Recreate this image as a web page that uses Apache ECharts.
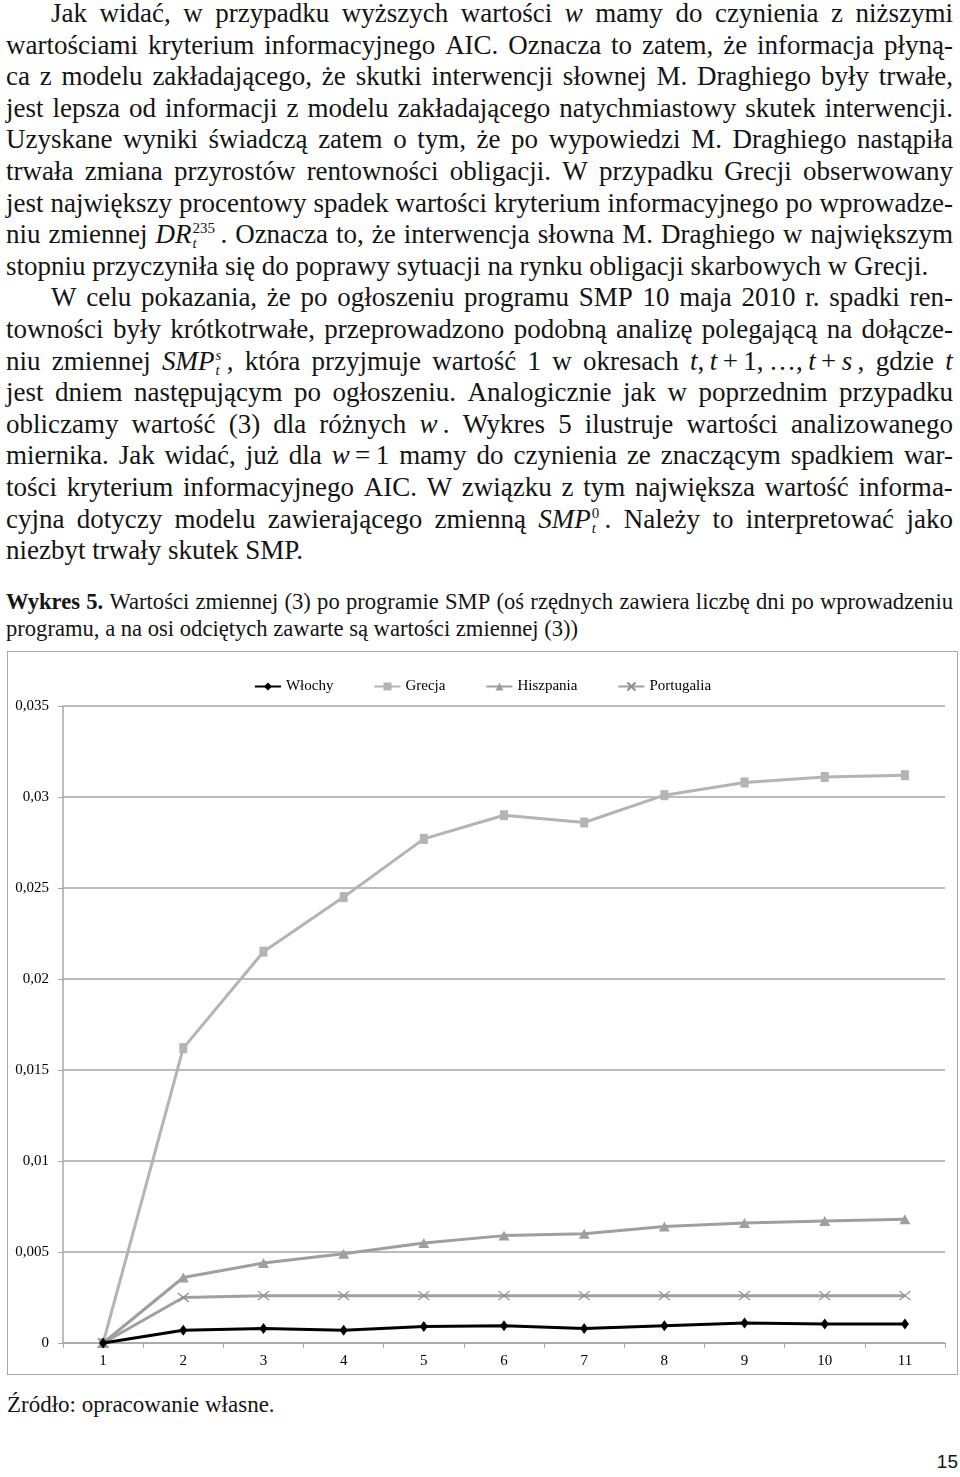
<!DOCTYPE html>
<html><head><meta charset="utf-8">
<script src="https://cdn.jsdelivr.net/npm/echarts@6/dist/echarts.min.js"></script>
<style>
html,body{margin:0;padding:0;background:#fff;}
body{width:960px;height:1477px;position:relative;overflow:hidden;font-family:'Liberation Serif','Times New Roman',serif;color:#141414;}
#text{position:absolute;left:6px;top:-2px;width:947px;font-size:27px;}
.ln{height:31.6px;line-height:31.6px;white-space:nowrap;}
.j{display:flex;justify-content:space-between;}
.j>span{flex:0 0 auto;white-space:nowrap;}
.ind{padding-left:45px;}
m-s{display:inline-flex;flex-direction:column;font-size:15px;line-height:15px;vertical-align:10px;margin-left:1px;}
m-p,m-b{display:block;}
m-b{font-style:italic;}
#cap{position:absolute;left:6px;top:588px;width:947px;font-size:22.6px;}
.cl{height:27px;line-height:27px;white-space:nowrap;}
#chart{position:absolute;left:7px;top:651px;width:951px;height:724px;border:1px solid #a8a8a8;box-sizing:border-box;}
#src{position:absolute;left:7px;top:1391px;font-size:23px;line-height:27px;white-space:nowrap;}
#pg{position:absolute;right:2px;top:1450px;font-family:'Liberation Sans',Arial,sans-serif;font-size:19px;line-height:24px;}
</style>
</head>
<body>
<div id="text">
<div class="ln j ind">Jak widać, w przypadku wyższych wartości <i>w</i> mamy do czynienia z niższymi</div>
<div class="ln j">wartościami kryterium informacyjnego AIC. Oznacza to zatem, że informacja płyną-</div>
<div class="ln j">ca z modelu zakładającego, że skutki interwencji słownej M. Draghiego były trwałe,</div>
<div class="ln j">jest lepsza od informacji z modelu zakładającego natychmiastowy skutek interwencji.</div>
<div class="ln j">Uzyskane wyniki świadczą zatem o tym, że po wypowiedzi M. Draghiego nastąpiła</div>
<div class="ln j">trwała zmiana przyrostów rentowności obligacji. W przypadku Grecji obserwowany</div>
<div class="ln j">jest największy procentowy spadek wartości kryterium informacyjnego po wprowadze-</div>
<div class="ln j">niu zmiennej <i>DR</i><m-s><m-p>235</m-p><m-b>t</m-b></m-s>&#8201;. Oznacza to, że interwencja słowna M. Draghiego w największym</div>
<div class="ln">stopniu przyczyniła się do poprawy sytuacji na rynku obligacji skarbowych w Grecji.</div>
<div class="ln j ind">W celu pokazania, że po ogłoszeniu programu SMP 10 maja 2010 r. spadki ren-</div>
<div class="ln j">towności były krótkotrwałe, przeprowadzono podobną analizę polegającą na dołącze-</div>
<div class="ln j">niu zmiennej <i>SMP</i><m-s><m-p><i>s</i></m-p><m-b>t</m-b></m-s>&#8201;, która przyjmuje wartość 1 w okresach <i>t</i>,&#8201;<i>t</i>&#8201;+&#8201;1,&#8201;…,&#8201;<i>t</i>&#8201;+&#8201;<i>s</i>&#8201;, gdzie <i>t</i></div>
<div class="ln j">jest dniem następującym po ogłoszeniu. Analogicznie jak w poprzednim przypadku</div>
<div class="ln j">obliczamy wartość (3) dla różnych <i>w</i>&#8201;. Wykres 5 ilustruje wartości analizowanego</div>
<div class="ln j">miernika. Jak widać, już dla <i>w</i>&#8201;=&#8201;1 mamy do czynienia ze znaczącym spadkiem war-</div>
<div class="ln j">tości kryterium informacyjnego AIC. W związku z tym największa wartość informa-</div>
<div class="ln j">cyjna dotyczy modelu zawierającego zmienną <i>SMP</i><m-s><m-p>0</m-p><m-b>t</m-b></m-s>&#8201;. Należy to interpretować jako</div>
<div class="ln">niezbyt trwały skutek SMP.</div>
</div>
<div id="cap">
<div class="cl j"><b>Wykres</b> <b>5.</b> Wartości zmiennej (3) po programie SMP (oś rzędnych zawiera liczbę dni po wprowadzeniu</div>
<div class="cl">programu, a na osi odciętych zawarte są wartości zmiennej (3))</div>
</div>
<div id="chart"></div>
<div id="src">Źródło: opracowanie własne.</div>
<div id="pg">15</div>
<script>
// justify each line: split into word spans
document.querySelectorAll('.j').forEach(function(el){
  var parts = el.innerHTML.trim().split(/[ \n\t]+/);
  el.innerHTML = parts.map(function(p){return '<span>'+p+'</span>';}).join('');
});

// ---- chart data ----
const categories = ['1','2','3','4','5','6','7','8','9','10','11'];
const seriesNames = ['Włochy','Grecja','Hiszpania','Portugalia'];
const wlochy     = [0, 0.0007, 0.0008, 0.0007, 0.0009, 0.00095, 0.0008, 0.00095, 0.0011, 0.00105, 0.00105];
const grecja     = [0, 0.0162, 0.0215, 0.0245, 0.0277, 0.0290, 0.0286, 0.0301, 0.0308, 0.0311, 0.0312];
const hiszpania  = [0, 0.0036, 0.0044, 0.0049, 0.0055, 0.0059, 0.0060, 0.0064, 0.0066, 0.0067, 0.0068];
const portugalia = [0, 0.0025, 0.0026, 0.0026, 0.0026, 0.0026, 0.0026, 0.0026, 0.0026, 0.0026, 0.0026];
const yMin = 0, yMax = 0.035, yStep = 0.005;

const FONT = "'Liberation Serif','Times New Roman',serif";
const AX = '#a6a6a6';
const chart = echarts.init(document.getElementById('chart'), null, {renderer:'canvas'});
chart.setOption({
  animation:false,
  backgroundColor:'#fff',
  textStyle:{fontFamily:FONT},
  legend:{
    top:22, left:'center', itemGap:40, itemWidth:26, itemHeight:10,
    textStyle:{fontFamily:FONT, fontSize:15, color:'#000'},
    data:seriesNames
  },
  grid:{left:55, top:54, width:882, height:637},
  xAxis:{
    type:'category', data:categories, boundaryGap:true,
    axisLine:{lineStyle:{color:AX, width:1.5}},
    axisTick:{show:true, length:5, lineStyle:{color:AX, width:1}},
    axisLabel:{fontFamily:FONT, fontSize:15, color:'#000', margin:11}
  },
  yAxis:{
    type:'value', min:yMin, max:yMax, interval:yStep,
    axisLine:{show:true, lineStyle:{color:AX, width:1.5}},
    axisTick:{show:true, length:5, lineStyle:{color:AX, width:1}},
    splitLine:{show:true, lineStyle:{color:AX, width:1.5}},
    axisLabel:{fontFamily:FONT, fontSize:15, color:'#000', margin:14,
      formatter:function(v){ if(Math.abs(v)<1e-12) return '0'; return v.toFixed(3).replace(/0+$/,'').replace('.',','); }}
  },
  series:[
    {name:'Włochy', type:'line', data:wlochy, z:5,
     symbol:'diamond', symbolSize:[8,11],
     lineStyle:{color:'#000', width:3}, itemStyle:{color:'#000', borderWidth:0}},
    {name:'Grecja', type:'line', data:grecja, z:3,
     symbol:'rect', symbolSize:[8,10],
     lineStyle:{color:'#b4b4b4', width:3}, itemStyle:{color:'#b4b4b4', borderWidth:0}},
    {name:'Hiszpania', type:'line', data:hiszpania, z:4,
     symbol:'triangle', symbolSize:[11,10],
     lineStyle:{color:'#9f9f9f', width:3}, itemStyle:{color:'#9f9f9f', borderWidth:0}},
    {name:'Portugalia', type:'line', data:portugalia, z:4,
     symbol:'path://M0,0L10,10M10,0L0,10', symbolSize:[11,9],
     lineStyle:{color:'#a0a0a0', width:3}, itemStyle:{color:'#8f8f8f', borderColor:'#8f8f8f', borderWidth:1.2}}
  ]
});
</script>
</body></html>
